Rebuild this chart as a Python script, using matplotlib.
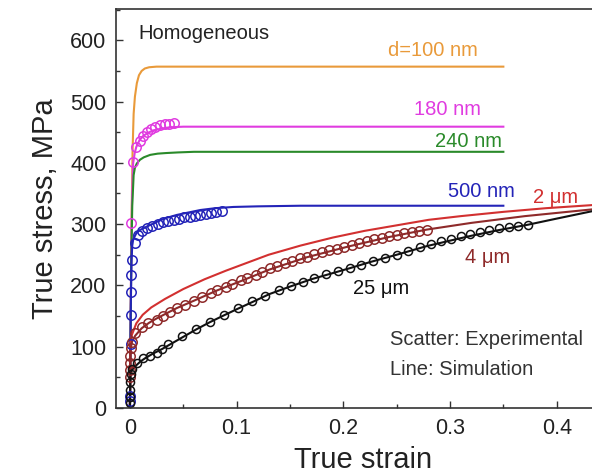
import matplotlib
matplotlib.use('Agg')
import matplotlib.pyplot as plt
from matplotlib.ticker import MultipleLocator, FuncFormatter

plt.rcParams['font.family'] = ['Liberation Sans', 'DejaVu Sans']

# Simulated flow curves (true strain, true stress in MPa)
x_100nm = [0, 0.0015, 0.0025, 0.0035, 0.0047, 0.0065, 0.0085, 0.011, 0.014, 0.018, 0.025, 0.04, 0.35]
y_100nm = [0, 300, 420, 480, 508, 530, 543, 550, 554, 556, 557, 557, 557]

x_180nm = [0, 0.0012, 0.002, 0.003, 0.0045, 0.006, 0.009, 0.0125, 0.017, 0.022, 0.03, 0.0375, 0.05, 0.07, 0.35]
y_180nm = [0, 250, 340, 399, 416, 426, 437, 444, 449, 453, 456, 458, 459, 459, 459]

x_240nm = [0, 0.0012, 0.0022, 0.0035, 0.0047, 0.0065, 0.0094, 0.013, 0.019, 0.026, 0.034, 0.045, 0.06, 0.08, 0.35]
y_240nm = [0, 230, 330, 380, 392, 399, 405, 409, 413, 415, 416, 417, 418, 418, 418]

x_500nm = [0, 0.0008, 0.0015, 0.0022, 0.003, 0.0045, 0.006, 0.009, 0.0125, 0.017, 0.022, 0.028,
           0.034, 0.044, 0.055, 0.066, 0.08, 0.097, 0.12, 0.16, 0.35]
y_500nm = [0, 160, 240, 265, 274, 280, 285, 290, 293, 297, 301, 306,
           310, 315, 319, 323, 326, 328, 329, 330, 330]

x_2um = [0, 0.0005, 0.002, 0.006, 0.012, 0.02, 0.033, 0.05, 0.07, 0.09, 0.11, 0.13, 0.16,
         0.19, 0.22, 0.25, 0.28, 0.31, 0.35, 0.39, 0.433, 0.45]
y_2um = [0, 110, 120, 138, 152, 164, 178, 194, 210, 224, 237, 250, 265,
         278, 289, 298, 307, 313, 320, 326, 331, 333]

x_4um = [0, 0.0005, 0.002, 0.005, 0.011, 0.018, 0.025, 0.035, 0.044, 0.06, 0.082, 0.104, 0.131,
         0.166, 0.206, 0.243, 0.278, 0.32, 0.37, 0.433, 0.45]
y_4um = [0, 95, 108, 118, 130, 139, 146, 155, 163, 175, 192, 207, 226,
         246, 264, 279, 291, 302, 313, 324, 326]

x_25um = [0, 0.0005, 0.002, 0.005, 0.01, 0.015, 0.022, 0.03, 0.04, 0.05, 0.062, 0.075, 0.088, 0.1,
          0.115, 0.131, 0.15, 0.17, 0.19, 0.206, 0.225, 0.25, 0.278, 0.3, 0.32, 0.345, 0.373,
          0.4, 0.433, 0.45]
y_25um = [0, 55, 62, 68, 76, 82, 89, 96, 106, 116, 128, 140, 151, 161,
          173, 186, 198, 210, 220, 228, 238, 250, 264, 273, 281, 290, 299,
          309, 321, 326]

# Experimental points
ex_180nm = [0.0006, 0.003, 0.006, 0.0094, 0.0125, 0.016, 0.0195, 0.0235, 0.028, 0.0325, 0.037, 0.041]
ey_180nm = [301, 402, 426, 435, 444, 451, 455, 459, 461, 463, 464, 465]

ex_500nm = [0.0004, 0.0004, 0.0006, 0.0008, 0.001, 0.0012, 0.0016, 0.0045, 0.0078, 0.011, 0.016,
            0.021, 0.026, 0.031, 0.036, 0.041, 0.046, 0.051, 0.056, 0.061, 0.066, 0.071, 0.076,
            0.081, 0.086]
ey_500nm = [12, 20, 105, 152, 190, 217, 241, 269, 283, 288, 293,
            297, 300, 303, 305, 307, 309, 311, 312, 314, 315, 317, 318,
            320, 322]

ex_4um = [0.0005, 0.0005, 0.0005, 0.0005, 0.001, 0.0015, 0.0047, 0.011, 0.017, 0.025, 0.031, 0.038,
          0.044, 0.052, 0.06, 0.068, 0.076, 0.082, 0.09, 0.096, 0.104, 0.11, 0.118, 0.124, 0.131,
          0.138, 0.145, 0.152, 0.159, 0.166, 0.173, 0.18, 0.187, 0.194, 0.201, 0.208, 0.215,
          0.222, 0.229, 0.236, 0.243, 0.25, 0.257, 0.264, 0.271, 0.278]
ey_4um = [50, 62, 73, 85, 97, 108, 122, 132, 139, 144, 150, 157,
          163, 168, 175, 181, 187, 192, 197, 202, 208, 212, 217, 222, 228,
          232, 236, 240, 244, 247, 251, 254, 257, 260, 263, 266, 269,
          272, 275, 277, 280, 282, 285, 287, 289, 291]

ex_25um = [0.0005, 0.0005, 0.0005, 0.0005, 0.0008, 0.002, 0.0063, 0.0125, 0.019, 0.025, 0.03, 0.036,
           0.049, 0.062, 0.075, 0.088, 0.101, 0.114, 0.127, 0.14, 0.151, 0.162, 0.173, 0.184,
           0.195, 0.206, 0.217, 0.228, 0.239, 0.25, 0.261, 0.272, 0.282, 0.292, 0.301, 0.31,
           0.319, 0.328, 0.337, 0.346, 0.355, 0.364, 0.373]
ey_25um = [8, 18, 30, 42, 55, 64, 73, 81, 85, 90, 96, 105,
           117, 129, 141, 152, 163, 174, 183, 192, 199, 206, 212, 218,
           224, 229, 234, 240, 245, 250, 256, 262, 267, 272, 276, 280,
           284, 287, 290, 293, 295, 297, 299]

c_orange = '#E99A3A'
c_magenta = '#E03CE0'
c_green = '#2A8A2A'
c_blue = '#2424B8'
c_red = '#D23030'
c_darkred = '#8E2A2A'
c_black = '#111111'

fig = plt.figure(figsize=(5.92, 4.76), dpi=100)
ax = fig.add_axes([0.196, 0.143, 0.8345, 0.838])

lw = 1.5
ax.plot(x_100nm, y_100nm, color=c_orange, lw=lw)
ax.plot(x_180nm, y_180nm, color=c_magenta, lw=lw)
ax.plot(x_240nm, y_240nm, color=c_green, lw=lw)
ax.plot(x_500nm, y_500nm, color=c_blue, lw=lw)
ax.plot(x_2um, y_2um, color=c_red, lw=lw)
ax.plot(x_4um, y_4um, color=c_darkred, lw=lw)
ax.plot(x_25um, y_25um, color=c_black, lw=lw)

mk = dict(marker='o', ls='none', mfc='none', ms=6.8, mew=1.1)
ax.plot(ex_180nm, ey_180nm, mec=c_magenta, **mk)
ax.plot(ex_500nm, ey_500nm, mec=c_blue, **mk)
ax.plot(ex_4um, ey_4um, mec=c_darkred, **mk)
ax.plot(ex_25um, ey_25um, mec=c_black, **{**mk, 'ms': 5.8})

fs = 14.5
ax.text(0.0084, 602, 'Homogeneous', fontsize=fs, color='#222222', va='baseline')
ax.text(0.326, 574, 'd=100 nm', fontsize=fs, color=c_orange, ha='right', va='baseline')
ax.text(0.329, 478, '180 nm', fontsize=fs, color=c_magenta, ha='right', va='baseline')
ax.text(0.349, 426, '240 nm', fontsize=fs, color=c_green, ha='right', va='baseline')
ax.text(0.361, 344, '500 nm', fontsize=fs, color=c_blue, ha='right', va='baseline')
ax.text(0.378, 335, '2 \u03bcm', fontsize=fs, color=c_red, va='baseline')
ax.text(0.314, 236, '4 \u03bcm', fontsize=fs, color=c_darkred, va='baseline')
ax.text(0.209, 186, '25 \u03bcm', fontsize=fs, color=c_black, va='baseline')
ax.text(0.244, 103, 'Scatter: Experimental', fontsize=fs, color='#333333', va='baseline')
ax.text(0.244, 53, 'Line: Simulation', fontsize=fs, color='#333333', va='baseline')

ax.set_xlim(-0.013, 0.45)
ax.set_ylim(0, 651)
ax.xaxis.set_major_locator(MultipleLocator(0.1))
ax.xaxis.set_minor_locator(MultipleLocator(0.05))
ax.yaxis.set_major_locator(MultipleLocator(100))
ax.yaxis.set_minor_locator(MultipleLocator(50))
ax.xaxis.set_major_formatter(FuncFormatter(lambda v, p: '0' if abs(v) < 1e-9 else f'{v:.1f}'))

ax.tick_params(which='both', direction='in', top=False, right=False, width=1.0,
               labelsize=15.5, colors='#333333', labelcolor='#222222')
ax.tick_params(which='major', length=5)
ax.tick_params(which='minor', length=3)
ax.tick_params(axis='y', pad=7)
ax.tick_params(axis='x', pad=7)
for s in ax.spines.values():
    s.set_linewidth(1.2)
    s.set_color('#333333')

ax.set_xlabel('True strain', fontsize=21, color='#222222', labelpad=5)
ax.set_ylabel('True stress, MPa', fontsize=21, color='#222222', labelpad=8)

fig.savefig('out.png', dpi=100)
